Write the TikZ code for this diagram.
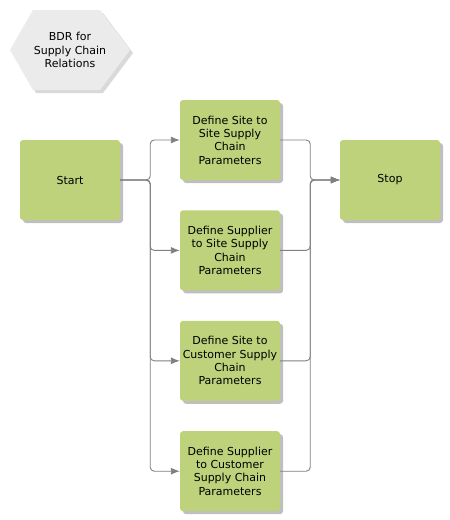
\documentclass[tikz,border=0pt]{standalone}
\usepackage{fontspec}
\setmainfont{DejaVu Sans}
\usetikzlibrary{positioning,arrows.meta,shadows}
\definecolor{taskgreen}{HTML}{BDD27B}
\definecolor{hexgray}{HTML}{EBEBEB}
\definecolor{linegray}{HTML}{808080}
\tikzset{
  taskbox/.style={rectangle, rounded corners=3pt, fill=taskgreen, minimum width=100pt, minimum height=80pt,
                  inner sep=1pt, font=\fontsize{11}{13.3}\selectfont, align=center,
                  drop shadow={shadow xshift=3pt, shadow yshift=-3pt, fill=black, opacity=0.25}},
  conn/.style={-{Latex[length=9pt,width=7pt]}, draw=linegray, line width=0.9pt, rounded corners=4pt},
}
\begin{document}
\begin{tikzpicture}[x=1pt,y=1pt]
  \useasboundingbox (0,0) rectangle (450,-520);
  % title hexagon
  \fill[black, opacity=0.15] (13,-53) -- (36,-13) -- (103,-13) -- (133,-53) -- (103,-93) -- (36,-93) -- cycle;
  \fill[hexgray] (10,-50) -- (33,-10) -- (100,-10) -- (130,-50) -- (100,-90) -- (33,-90) -- cycle;
  \node[font=\fontsize{11}{13.3}\selectfont, align=center] (title) at (70,-50) {BDR for\\Supply Chain\\Relations};

  \node[taskbox] (start) at (70,-180) {Start};
  \node[taskbox] (node1) at (230,-140) {Define Site to\\Site Supply\\Chain\\Parameters};
  \node[taskbox] (node2) [below=30pt of node1] {Define Supplier\\to Site Supply\\Chain\\Parameters};
  \node[taskbox] (node3) [below=30pt of node2] {Define Site to\\Customer Supply\\Chain\\Parameters};
  \node[taskbox] (node4) [below=30pt of node3] {Define Supplier\\to Customer\\Supply Chain\\Parameters};
  \node[taskbox] (stop) at (390,-180) {Stop};

  \foreach \n in {node1,node2,node3,node4} {
    \draw[conn] (start.east) -- ++(30,0) |- (\n.west);
    \draw[conn] (\n.east) -- ++(30,0) |- (stop.west);
  }
\end{tikzpicture}
\end{document}
